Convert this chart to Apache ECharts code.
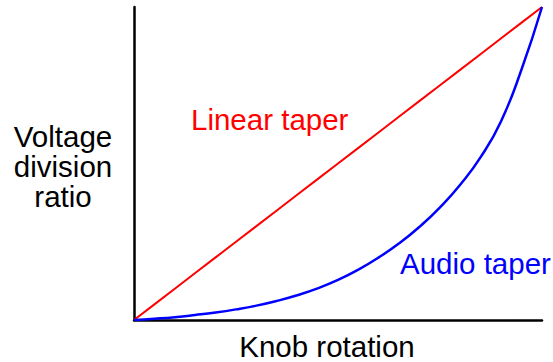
<!DOCTYPE html>
<html>
<head>
<meta charset="utf-8">
<script src="https://cdn.jsdelivr.net/npm/echarts@6/dist/echarts.min.js"></script>
<style>
  html, body { margin: 0; padding: 0; background: #fff; }
  #chart { width: 553px; height: 362px; }
</style>
</head>
<body>
<div id="chart"></div>
<script>
// Knob rotation, percent of full travel
const rotation = [0, 5, 10, 15, 20, 25, 30, 35, 40, 45, 50, 55, 60, 65, 70, 75, 80, 85, 90, 95, 100];
// Voltage division ratio of a linear-taper pot
const linearRatio = rotation.map(r => r / 100);
// Voltage division ratio of an audio (log) taper pot
const audioRatio = [0, 0.004, 0.009, 0.016, 0.024, 0.034, 0.046, 0.061, 0.079, 0.101, 0.128,
                    0.161, 0.200, 0.245, 0.298, 0.360, 0.433, 0.521, 0.636, 0.801, 1];

const font = 'Liberation Sans, Arial, Helvetica, sans-serif';
const size = '29.5px ';
const chart = echarts.init(document.getElementById('chart'), null, { renderer: 'svg' });

chart.setOption({
  animation: false,
  backgroundColor: '#ffffff',
  grid: { left: 134, top: 7, right: 11, bottom: 42, containLabel: false },
  xAxis: {
    type: 'value', min: 0, max: 100,
    axisLine: { show: true, lineStyle: { color: '#000', width: 2.5 } },
    axisTick: { show: false }, axisLabel: { show: false }, splitLine: { show: false }
  },
  yAxis: {
    type: 'value', min: 0, max: 1,
    axisLine: { show: true, lineStyle: { color: '#000', width: 2.5 } },
    axisTick: { show: false }, axisLabel: { show: false }, splitLine: { show: false }
  },
  series: [
    {
      name: 'Linear taper', type: 'line', symbol: 'none',
      data: rotation.map((r, i) => [r, linearRatio[i]]),
      lineStyle: { color: '#ff0000', width: 2 }
    },
    {
      name: 'Audio taper', type: 'line', symbol: 'none', smooth: 0.5,
      data: rotation.map((r, i) => [r, audioRatio[i]]),
      lineStyle: { color: '#0000ff', width: 2.5 }
    }
  ],
  graphic: [
    { type: 'text', x: 191, y: 119, style: { text: 'Linear taper', fill: '#ff0000', font: size + font, verticalAlign: 'middle' } },
    { type: 'text', x: 400, y: 263, style: { text: 'Audio taper', fill: '#0000ff', font: size + font, verticalAlign: 'middle' } },
    { type: 'text', x: 327, y: 346, style: { text: 'Knob rotation', fill: '#000', font: size + font, align: 'center', verticalAlign: 'middle' } },
    { type: 'text', x: 63, y: 166, style: { text: 'Voltage\ndivision\nratio', fill: '#000', font: size + font, align: 'center', verticalAlign: 'middle', lineHeight: 30 } }
  ]
});
</script>
</body>
</html>
